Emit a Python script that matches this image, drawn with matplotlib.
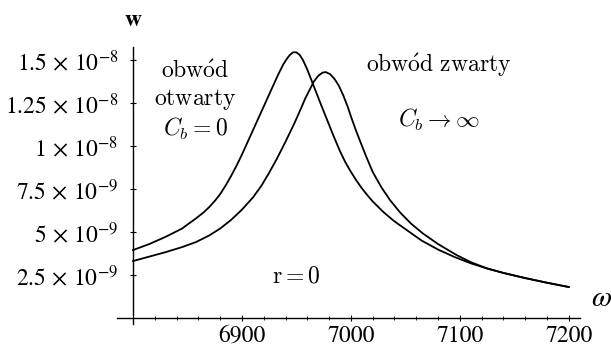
import matplotlib
matplotlib.use("Agg")
import matplotlib.pyplot as plt
from matplotlib.ticker import MultipleLocator

plt.rcParams['font.family'] = ['STIXGeneral', 'DejaVu Serif']
plt.rcParams['mathtext.fontset'] = 'stix'

# open circuit (C_b = 0), w in units of 1e-9
omega_open = [6800, 6815, 6830, 6845, 6858, 6865, 6870, 6875, 6880, 6885, 6890, 6895,
              6900, 6905, 6910, 6915, 6920, 6925, 6930, 6934, 6938, 6941, 6944, 6947,
              6950, 6953, 6956, 6960, 6964, 6968, 6972, 6978, 6984, 6990, 6995, 7000,
              7005, 7010, 7015, 7020, 7030, 7040, 7050, 7065, 7080, 7095, 7110, 7125,
              7140, 7160, 7180, 7200]
w_open = [3.95, 4.3, 4.72, 5.2, 5.8, 6.15, 6.45, 6.8, 7.2, 7.7, 8.25, 8.85,
          9.5, 10.2, 10.9, 11.6, 12.3, 13.0, 13.7, 14.25, 14.75, 15.05, 15.3, 15.45,
          15.45, 15.3, 15.0, 14.45, 13.8, 13.15, 12.5, 11.55, 10.6, 9.7, 9.05, 8.5,
          8.0, 7.55, 7.15, 6.78, 6.15, 5.62, 5.17, 4.5, 3.98, 3.55, 3.18, 2.88,
          2.62, 2.32, 2.05, 1.80]

# short circuit (C_b -> inf)
omega_short = [6800, 6815, 6830, 6845, 6858, 6870, 6880, 6890, 6900, 6910, 6918, 6925,
               6932, 6940, 6948, 6955, 6958, 6962, 6966, 6970, 6974, 6977, 6981, 6985,
               6989, 6993, 6997, 7001, 7005, 7009, 7014, 7020, 7028, 7036, 7045, 7055,
               7066, 7080, 7097, 7110, 7125, 7140, 7160, 7180, 7200]
w_short = [3.31, 3.57, 3.83, 4.12, 4.42, 4.8, 5.2, 5.7, 6.3, 7.0, 7.7, 8.45,
           9.25, 10.25, 11.3, 12.3, 12.75, 13.25, 13.75, 14.08, 14.27, 14.3, 14.18, 13.9,
           13.5, 12.95, 12.3, 11.55, 10.85, 10.2, 9.4, 8.5, 7.6, 6.85, 6.15, 5.5,
           4.92, 4.3, 3.66, 3.25, 2.88, 2.62, 2.32, 2.05, 1.80]

xticks = [6900, 7000, 7100, 7200]
yticks = [2.5, 5, 7.5, 10, 12.5, 15]
ylabels = [r'$2.5\,\times\,10^{-9}$', r'$5\,\times\,10^{-9}$', r'$7.5\,\times\,10^{-9}$',
           r'$1\,\times\,10^{-8}$', r'$1.25\,\times\,10^{-8}$', r'$1.5\,\times\,10^{-8}$']

fig = plt.figure(figsize=(6.11, 3.47), dpi=100)
ax = fig.add_axes([0.1909, 0.0663, 0.7578, 0.7983])
ax.plot(omega_open, w_open, color='black', lw=1.3, solid_joinstyle='round')
ax.plot(omega_short, w_short, color='black', lw=1.3, solid_joinstyle='round')

ax.set_xlim(6785, 7210)
ax.set_ylim(-0.35, 15.76)
for s in ['top', 'right']:
    ax.spines[s].set_visible(False)
ax.spines['left'].set_position(('data', 6800))
ax.spines['bottom'].set_position(('data', 0))
ax.spines['left'].set_linewidth(1.0)
ax.spines['bottom'].set_linewidth(1.0)

ax.set_xticks(xticks)
ax.set_xticklabels([str(t) for t in xticks])
ax.xaxis.set_minor_locator(MultipleLocator(20))
ax.set_yticks(yticks)
ax.set_yticklabels(ylabels)
ax.tick_params(which='major', direction='inout', length=5, width=0.8, labelsize=17, pad=3)
ax.tick_params(axis='y', which='major', pad=8)
ax.tick_params(which='minor', direction='inout', length=2.5, width=0.6)

ax.text(6800, 17.3, 'w', fontsize=17, ha='center', va='center', fontweight='bold')
ax.text(7230, 1.05, r'$\omega$', fontsize=21, ha='center', va='center')

cm = dict(fontsize=17, ha='center', va='baseline', math_fontfamily='cm')
ax.text(6857, 13.95, r'$\mathrm{obw\acute{o}d}$', **cm)
ax.text(6857, 12.38, r'$\mathrm{otwarty}$', **cm)
ax.text(6857, 10.58, r'$C_b = 0$', **cm)
ax.text(7081, 14.3, r'$\mathrm{obw\acute{o}d\ zwarty}$', **cm)
ax.text(7081, 11.1, r'$C_b \rightarrow \infty$', **cm)
ax.text(6950, 2.09, r'$\mathrm{r} = 0$', **cm)

fig.savefig('out.png', dpi=100)
